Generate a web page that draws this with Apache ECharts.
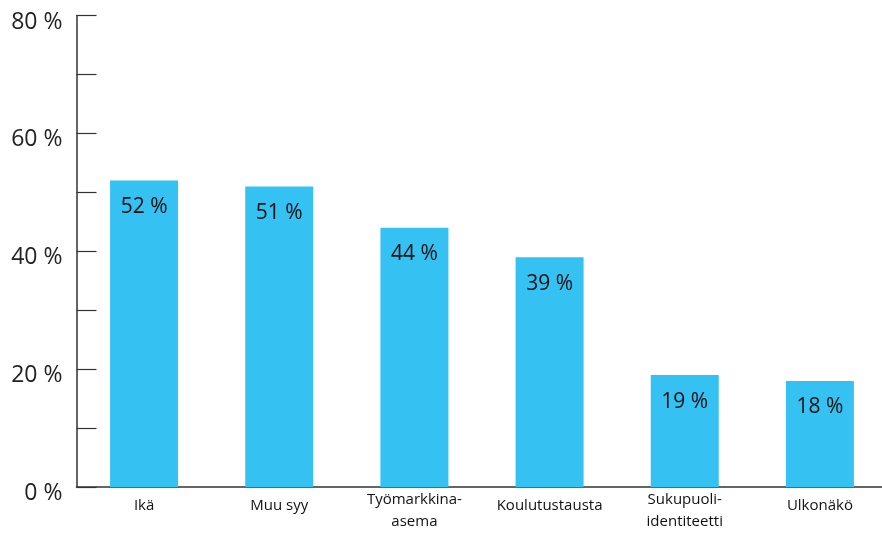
<!DOCTYPE html>
<html><head><meta charset="utf-8">
<script src="https://cdn.jsdelivr.net/npm/echarts@6/dist/echarts.min.js"></script>
<style>html,body{margin:0;padding:0;background:#fff;overflow:hidden;width:882px;height:533px}#w{width:882px;height:533px;overflow:hidden;position:relative}#c{width:888px;height:533px;position:absolute;left:0;top:0}</style>
</head><body><div id="w"><div id="c"></div></div>
<script>
const categories = ['Ikä', 'Muu syy', 'Työmarkkina-\nasema', 'Koulutustausta', 'Sukupuoli-\nidentiteetti', 'Ulkonäkö'];
const values = [52, 51, 44, 39, 19, 18];
const yTickLabels = [0, 20, 40, 60, 80];

const chart = echarts.init(document.getElementById('c'));
chart.setOption({
  animation: false,
  grid: { left: 76.5, top: 15.5, right: 0.5, height: 474.5, containLabel: false },
  xAxis: {
    type: 'category', data: categories,
    axisLine: { lineStyle: { color: '#333', width: 1.5 } },
    axisTick: { show: false },
    axisLabel: {
      color: '#111', fontFamily: 'Open Sans', fontSize: 15, lineHeight: 22, margin: 24,
      verticalAlign: 'middle', interval: 0,
      formatter: v => v.includes('\n') ? v : '{s|' + v + '}',
      rich: { s: { fontFamily: 'Open Sans', fontSize: 15, color: '#111', lineHeight: 22, padding: [0, 0, 10, 0] } }
    }
  },
  yAxis: {
    type: 'value', min: 0, max: 80, interval: 10,
    axisLine: { show: true, lineStyle: { color: '#333', width: 1.5 } },
    axisTick: { show: true, inside: true, length: 20, lineStyle: { color: '#333', width: 1.2 } },
    splitLine: { show: false },
    axisLabel: {
      color: '#222', fontFamily: 'Open Sans', fontSize: 23, margin: 14,
      formatter: v => yTickLabels.includes(v) ? '{a|' + v + ' %}' : '',
      rich: { a: { fontFamily: 'Open Sans', fontSize: 23, color: '#222', padding: [13, 0, 0, 0] } }
    }
  },
  series: [{
    type: 'bar', data: values, barWidth: 68,
    itemStyle: { color: '#35C1F1' },
    label: { show: true, position: 'insideTop', distance: 16, color: '#111', fontFamily: 'Open Sans', fontSize: 21, formatter: p => p.value + ' %' }
  }]
});
</script></body></html>
